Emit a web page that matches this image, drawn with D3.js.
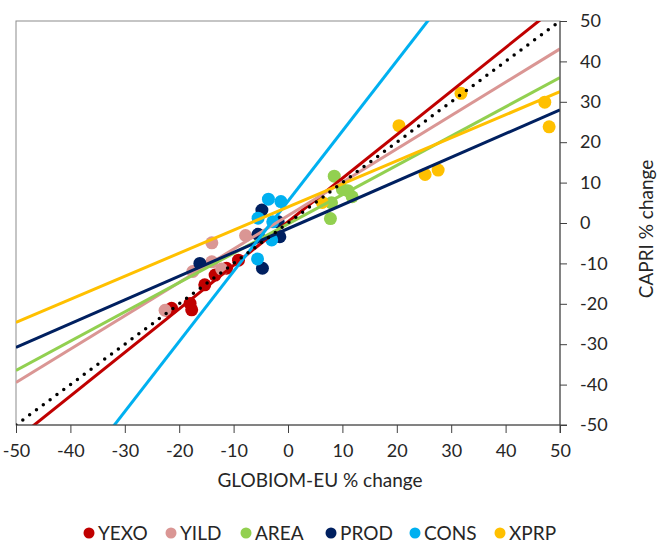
<!DOCTYPE html>
<html>
<head>
<meta charset="utf-8">
<script src="https://cdn.jsdelivr.net/npm/d3@7"></script>
<style>
  html, body { margin: 0; padding: 0; background: #fff; }
  svg text { font-family: Lato, "Open Sans", sans-serif; fill: #262626; }
</style>
</head>
<body>
<svg id="chart" width="657" height="548"></svg>
<script>
// ---------- data ----------
const seriesNames = ["YEXO", "YILD", "AREA", "PROD", "CONS", "XPRP"];
const seriesColors = ["#C00000", "#DA9694", "#92D050", "#002060", "#00B0F0", "#FFC000"];

const yexoX = [-21.4, -22.2, -18.0, -17.7, -15.3, -13.4, -11.3, -9.1];
const yexoY = [-21.1, -21.6, -19.9, -21.5, -15.3, -12.9, -11.2, -9.2];
const yildX = [-22.6, -17.5, -14.0, -12.2, -14.0, -7.8];
const yildY = [-21.6, -12.0, -9.6, -11.4, -4.9, -3.1];
const areaX = [8.5, 10.0, 11.0, 11.8, 8.0, 7.8];
const areaY = [11.6, 8.3, 8.0, 6.5, 5.0, 1.1];
const prodX = [-4.8, -1.8, -5.5, -1.5, -4.7, -16.2];
const prodY = [3.2, 0.3, -2.8, -3.4, -11.2, -10.0];
const consX = [-3.6, -1.3, -5.5, -2.8, -3.0, -5.6];
const consY = [5.9, 5.3, 1.2, 0.3, -4.2, -8.9];
const xprpX = [31.8, 47.2, 48.0, 20.4, 25.2, 27.6, 6.3];
const xprpY = [32.1, 29.9, 23.8, 24.1, 12.0, 13.1, 5.1];

// linear trendlines (slope, intercept) per series
const trendSlope = [1.078, 0.826, 0.725, 0.588, 1.736, 0.571];
const trendIntercept = [0.3, 1.8, -0.25, -1.4, 5.4, 3.95];

const tickValues = [-50, -40, -30, -20, -10, 0, 10, 20, 30, 40, 50];
const xTitle = "GLOBIOM-EU % change";
const yTitle = "CAPRI % change";

// ---------- chart ----------
const svg = d3.select("#chart");
const x = d3.scaleLinear().domain([-50, 50]).range([16, 560]);
const y = d3.scaleLinear().domain([-50, 50]).range([425, 21]);

const seriesX = [yexoX, yildX, areaX, prodX, consX, xprpX];
const seriesY = [yexoY, yildY, areaY, prodY, consY, xprpY];

svg.append("defs").append("clipPath").attr("id", "plotclip")
  .append("rect").attr("x", 16).attr("y", 21).attr("width", 544).attr("height", 404);

// plot border
svg.append("rect")
  .attr("x", x(-50)).attr("y", y(50))
  .attr("width", x(50) - x(-50)).attr("height", y(-50) - y(50))
  .attr("fill", "none").attr("stroke", "#8c8c8c").attr("stroke-width", 1);

const plot = svg.append("g").attr("clip-path", "url(#plotclip)");

// points
seriesNames.forEach((name, i) => {
  plot.append("g").selectAll("circle")
    .data(seriesX[i].map((v, k) => [v, seriesY[i][k]]))
    .join("circle")
    .attr("cx", d => x(d[0]))
    .attr("cy", d => y(d[1]))
    .attr("r", 6.5)
    .attr("fill", seriesColors[i]);
});

// trendlines
seriesNames.forEach((name, i) => {
  const xs = [-50, 50];
  plot.append("line")
    .attr("x1", x(xs[0])).attr("y1", y(trendSlope[i] * xs[0] + trendIntercept[i]))
    .attr("x2", x(xs[1])).attr("y2", y(trendSlope[i] * xs[1] + trendIntercept[i]))
    .attr("stroke", seriesColors[i])
    .attr("stroke-width", 3);
});

// 1:1 line
plot.append("line")
  .attr("x1", x(-50)).attr("y1", y(-50))
  .attr("x2", x(50)).attr("y2", y(50))
  .attr("stroke", "#000")
  .attr("stroke-width", 3.5)
  .attr("stroke-linecap", "round")
  .attr("stroke-dasharray", "0 8.5");

// x axis
const xAxis = svg.append("g")
  .attr("transform", `translate(0,${y(-50)})`)
  .call(d3.axisBottom(x).tickValues(tickValues).tickSize(8).tickSizeOuter(0).tickFormat(d3.format("d")));
xAxis.select(".domain").attr("stroke", "#404040").attr("d", `M${x(-50)},0H${x(50) + 7}`);
xAxis.selectAll(".tick line").attr("stroke", "#404040");
xAxis.selectAll(".tick text")
  .attr("y", 19).attr("dy", "0.71em")
  .style("font-size", "18px").attr("fill", "#262626")
  .text(d => d < 0 ? "-" + Math.abs(d) : d);

// y axis (right)
const yAxis = svg.append("g")
  .attr("transform", `translate(${x(50)},0)`)
  .call(d3.axisRight(y).tickValues(tickValues).tickSize(7).tickSizeOuter(0).tickFormat(d3.format("d")));
yAxis.select(".domain").attr("stroke", "#404040").attr("d", `M0,${y(50)}V${y(-50) + 8}`);
yAxis.selectAll(".tick line").attr("stroke", "#404040");
yAxis.selectAll(".tick text")
  .attr("x", 20)
  .style("font-size", "18px").attr("fill", "#262626")
  .text(d => d < 0 ? "-" + Math.abs(d) : d);

// axis titles
svg.append("text")
  .attr("x", 320).attr("y", 487)
  .attr("text-anchor", "middle")
  .style("font-size", "19px")
  .text(xTitle);
svg.append("text")
  .attr("transform", `translate(653,229) rotate(-90)`)
  .attr("text-anchor", "middle")
  .style("font-size", "19px")
  .text(yTitle);

// legend
const legendX = [89, 171, 246, 331, 415, 500];
const legend = svg.append("g");
seriesNames.forEach((name, i) => {
  legend.append("circle")
    .attr("cx", legendX[i]).attr("cy", 533).attr("r", 5.5)
    .attr("fill", seriesColors[i]);
  legend.append("text")
    .attr("x", legendX[i] + 9).attr("y", 540)
    .style("font-size", "19px")
    .text(name);
});
</script>
</body>
</html>
